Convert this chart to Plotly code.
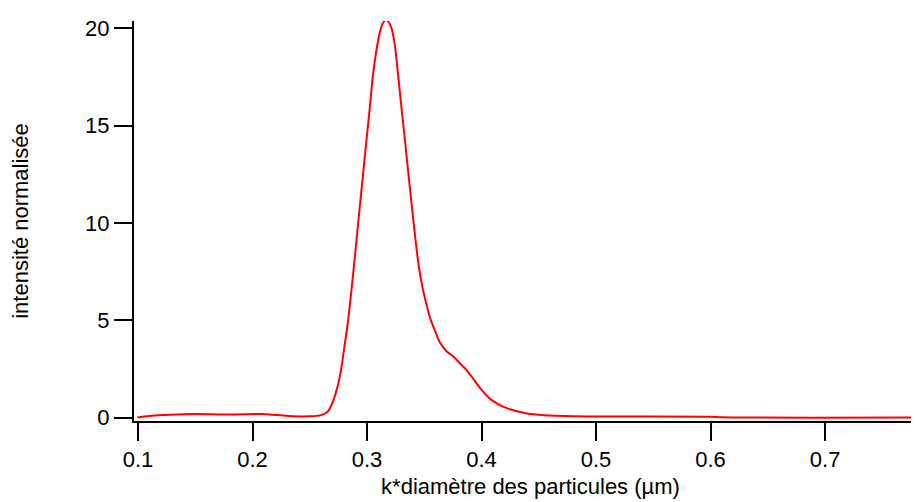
import plotly.graph_objects as go

# particle size distribution
diametre = [0.0994, 0.1175, 0.1495, 0.1786, 0.2074, 0.231, 0.2485, 0.2601,
            0.266, 0.2703, 0.2747, 0.2776, 0.2805, 0.2834, 0.2863, 0.2893,
            0.2921, 0.2965, 0.2994, 0.3024, 0.3052, 0.3081, 0.3111, 0.314,
            0.3169, 0.3212, 0.3242, 0.3271, 0.3301, 0.3332, 0.3362, 0.3393,
            0.3425, 0.3454, 0.3485, 0.352, 0.355, 0.3594, 0.3638, 0.369,
            0.3766, 0.3812, 0.3865, 0.3911, 0.3998, 0.4083, 0.4203, 0.4377,
            0.4552, 0.4814, 0.5017, 0.6, 0.61, 0.789]
intensite = [0.0, 0.11, 0.18, 0.15, 0.18, 0.08, 0.06, 0.12,
             0.32, 0.83, 1.69, 2.55, 3.74, 4.95, 6.49, 8.2,
             9.91, 12.48, 14.2, 15.9, 17.6, 18.83, 19.77, 20.28,
             20.42, 20.03, 19.17, 17.62, 15.91, 14.2, 12.48, 10.77,
             9.03, 7.69, 6.66, 5.78, 5.12, 4.45, 3.84, 3.43,
             3.07, 2.78, 2.47, 2.12, 1.43, 0.92, 0.52, 0.23,
             0.11, 0.06, 0.05, 0.04, 0.01, 0.0]

xticks = [0.1, 0.2, 0.3, 0.4, 0.5, 0.6, 0.7]
yticks = [0, 5, 10, 15, 20]

police = 'Liberation Sans, Arial, sans-serif'

fig = go.Figure()
fig.add_trace(go.Scatter(x=diametre, y=intensite, mode='lines',
                         line=dict(color='#ff0000', width=2, shape='spline', smoothing=0.8),
                         hoverinfo='skip'))

fig.update_layout(
    width=919, height=502,
    margin=dict(l=126, r=0, t=13, b=89),
    paper_bgcolor='white', plot_bgcolor='white',
    showlegend=False,
    font=dict(family=police, size=22, color='black'),
)

fig.update_xaxes(
    range=[0.0965, 0.789], tickvals=xticks, ticktext=[str(v) for v in xticks],
    tickfont=dict(family=police, size=22),
    showline=True, linecolor='black', linewidth=2,
    ticks='outside', ticklen=18, tickwidth=2, tickcolor='black',
    showgrid=False, zeroline=False, automargin=False,
    title=dict(text='k*diamètre des particules (µm)', standoff=7,
               font=dict(family=police, size=22)),
)
fig.update_yaxes(
    range=[-0.18, 20.37], tickvals=yticks,
    tickfont=dict(family=police, size=22),
    showline=True, linecolor='black', linewidth=2,
    ticks='outside', ticklen=18, tickwidth=2, tickcolor='black',
    showgrid=False, zeroline=False, automargin=False,
    title=dict(text='intensité normalisée', standoff=50,
               font=dict(family=police, size=22)),
)

fig.write_html("out.html")
